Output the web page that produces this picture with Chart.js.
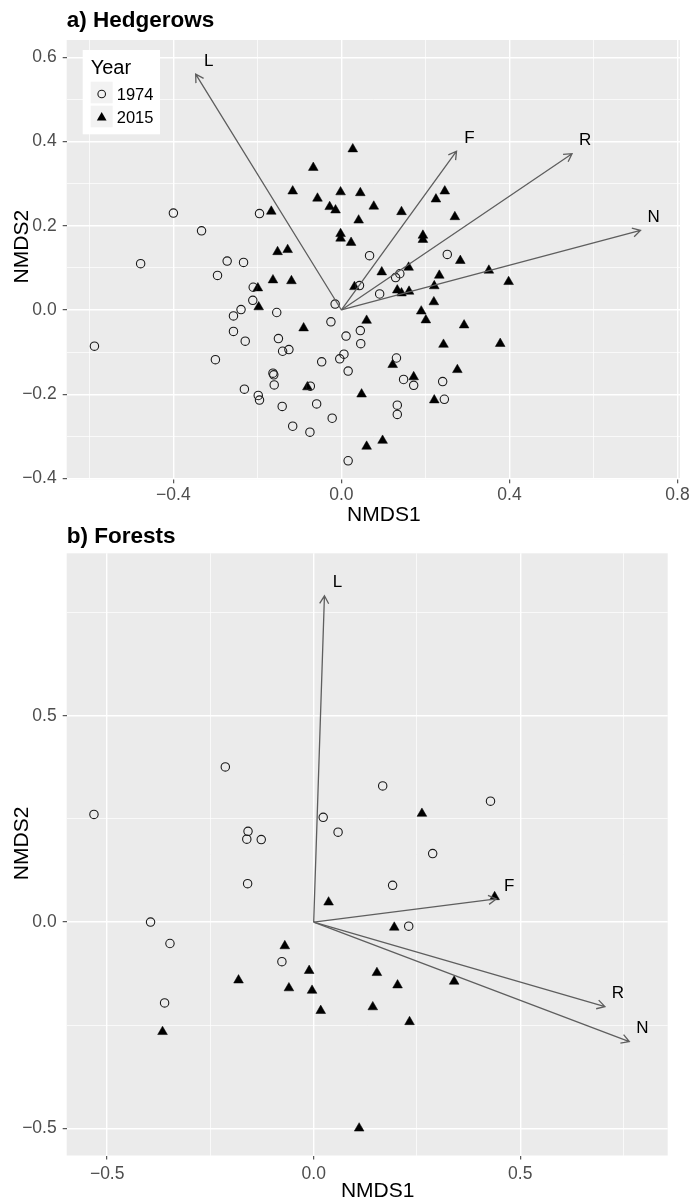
<!DOCTYPE html>
<html>
<head>
<meta charset="utf-8">
<script src="https://cdn.jsdelivr.net/npm/chart.js@4.4.0/dist/chart.umd.min.js"></script>
<style>
html,body{margin:0;padding:0;background:#fff;}
#wrap{position:relative;width:693px;height:1200px;overflow:hidden;}
#wrap canvas{position:absolute;left:0;}
</style>
</head>
<body>
<div id="wrap">
<canvas id="cA" width="693" height="530" style="top:0px"></canvas>
<canvas id="cB" width="693" height="680" style="top:520px"></canvas>
</div>
<script>
// ---------------- DATA ----------------
const yearLabels = ['1974', '2015'];

// a) Hedgerows
const hedge1974X = [-0.588,-0.478,-0.400,-0.333,-0.195,-0.272,-0.233,-0.295,-0.210,-0.211,-0.239,-0.257,-0.154,-0.257,-0.229,-0.150,-0.140,-0.125,-0.300,-0.015,-0.025,0.011,-0.047,0.006,-0.004,0.016,-0.163,-0.161,-0.160,-0.231,-0.198,-0.195,-0.074,-0.141,-0.059,-0.116,-0.075,-0.022,0.016,0.067,0.252,0.043,0.129,0.139,0.091,0.045,0.046,0.131,0.148,0.172,0.241,0.245,0.133,0.133];
const hedge1974Y = [-0.086,0.110,0.230,0.188,0.229,0.116,0.113,0.082,0.054,0.023,0.001,-0.014,-0.006,-0.051,-0.074,-0.068,-0.098,-0.094,-0.118,0.014,-0.028,-0.062,-0.123,-0.105,-0.116,-0.145,-0.150,-0.154,-0.178,-0.188,-0.203,-0.214,-0.181,-0.229,-0.223,-0.276,-0.290,-0.257,-0.358,0.129,0.132,0.058,0.077,0.086,0.038,-0.049,-0.080,-0.114,-0.165,-0.179,-0.170,-0.212,-0.226,-0.248];
const hedge2015X = [-0.152,-0.128,-0.163,-0.119,-0.199,-0.197,-0.090,-0.081,-0.167,-0.067,-0.116,-0.057,-0.002,-0.028,-0.014,-0.002,-0.002,0.027,0.045,0.077,0.041,0.143,0.246,0.225,0.270,0.023,0.194,0.194,0.283,0.160,0.096,0.233,0.351,0.398,0.031,0.133,0.143,0.161,0.221,0.220,0.190,0.201,0.060,0.292,0.243,0.378,0.122,0.172,0.276,0.048,0.221,0.098,0.060];
const hedge2015Y = [0.138,0.143,0.071,0.069,0.052,0.007,-0.043,-0.183,0.234,0.338,0.282,0.265,0.280,0.245,0.237,0.181,0.170,0.382,0.278,0.246,0.213,0.233,0.282,0.263,0.221,0.160,0.177,0.167,0.117,0.101,0.090,0.082,0.094,0.067,0.055,0.047,0.040,0.044,0.057,0.019,-0.003,-0.024,-0.025,-0.036,-0.082,-0.080,-0.130,-0.159,-0.142,-0.200,-0.214,-0.310,-0.324];
const hedgeVectorNames = ['L', 'F', 'R', 'N'];
const hedgeVectorX = [-0.347, 0.274, 0.549, 0.712];
const hedgeVectorY = [0.560, 0.377, 0.371, 0.189];
const hedgeXTicks = [-0.4, 0.0, 0.4, 0.8];
const hedgeXMinorTicks = [-0.6, -0.2, 0.2, 0.6];
const hedgeYTicks = [-0.4, -0.2, 0.0, 0.2, 0.4, 0.6];
const hedgeYMinorTicks = [-0.3, -0.1, 0.1, 0.3, 0.5];

// b) Forests
const forest1974X = [-0.214,-0.532,0.023,0.059,-0.159,-0.162,-0.127,0.167,0.428,0.288,-0.160,-0.395,-0.348,-0.077,-0.361,0.191,0.230];
const forest1974Y = [0.376,0.261,0.254,0.218,0.220,0.201,0.200,0.330,0.293,0.166,0.093,0.000,-0.052,-0.096,-0.196,0.089,-0.010];
const forest2015X = [0.262,0.036,-0.070,-0.011,-0.182,-0.060,-0.004,0.017,-0.366,0.438,0.195,0.153,0.203,0.340,0.143,0.232,0.110];
const forest2015Y = [0.263,0.048,-0.058,-0.118,-0.141,-0.160,-0.166,-0.215,-0.266,0.061,-0.013,-0.123,-0.153,-0.144,-0.206,-0.242,-0.500];
const forestVectorNames = ['L', 'F', 'R', 'N'];
const forestVectorX = [0.026, 0.442, 0.705, 0.764];
const forestVectorY = [0.791, 0.056, -0.205, -0.290];
const forestXTicks = [-0.5, 0.0, 0.5];
const forestXMinorTicks = [-0.25, 0.25, 0.75];
const forestYTicks = [-0.5, 0.0, 0.5];
const forestYMinorTicks = [-0.25, 0.25, 0.75];

// ---------------- STYLE / BUILD ----------------
const FONT = "'Liberation Sans', Arial, Helvetica, sans-serif";
Chart.defaults.font.family = FONT;

const zip = (xs, ys) => xs.map((x, i) => ({x: x, y: ys[i]}));
const fmt = v => (v < 0 ? '\u2212' : '') + Math.abs(v).toFixed(1);
const isMajor = (list, v) => list.some(t => Math.abs(t - v) < 1e-9);

const ordiPlugin = {
  id: 'ordi',
  beforeDraw(chart) {
    const {ctx, chartArea: a} = chart;
    ctx.save();
    ctx.fillStyle = '#ebebeb';
    ctx.fillRect(a.left, a.top, a.right - a.left, a.bottom - a.top);
    ctx.restore();
  },
  afterDatasetsDraw(chart, args, o) {
    const {ctx, scales: {x, y}} = chart;
    const ox = x.getPixelForValue(0), oy = y.getPixelForValue(0);
    ctx.save();
    ctx.strokeStyle = '#5e5e5e';
    ctx.lineWidth = 1.3;
    ctx.lineCap = 'butt';
    ctx.lineJoin = 'miter';
    o.names.forEach((n, i) => {
      const px = x.getPixelForValue(o.vx[i]), py = y.getPixelForValue(o.vy[i]);
      const ang = Math.atan2(py - oy, px - ox), L = 9, h = Math.PI / 6;
      ctx.beginPath();
      ctx.moveTo(ox, oy); ctx.lineTo(px, py);
      ctx.moveTo(px - L * Math.cos(ang - h), py - L * Math.sin(ang - h));
      ctx.lineTo(px, py);
      ctx.lineTo(px - L * Math.cos(ang + h), py - L * Math.sin(ang + h));
      ctx.stroke();
      ctx.fillStyle = '#000';
      ctx.font = '17px ' + FONT;
      ctx.textAlign = 'center';
      ctx.textBaseline = 'middle';
      ctx.fillText(n, px + 13, py - 13);
    });
    ctx.restore();
  },
  afterDraw(chart, args, o) {
    const {ctx, chartArea: a} = chart;
    ctx.save();
    // axis titles
    ctx.fillStyle = '#000';
    ctx.font = '21px ' + FONT;
    ctx.textAlign = 'center';
    ctx.textBaseline = 'alphabetic';
    ctx.fillText(o.xTitle, (a.left + a.right) / 2 + 10.5, o.xTitleBase);
    ctx.translate(28.3, (a.top + a.bottom) / 2 + o.yTitleShift);
    ctx.rotate(-Math.PI / 2);
    ctx.fillText(o.yTitle, 0, 0);
    ctx.restore();
    if (!o.legend) return;
    // legend
    const L = a.left, T = a.top;
    ctx.save();
    ctx.fillStyle = '#ffffff';
    ctx.fillRect(L + 16, T + 10, 77.3, 84.3);
    ctx.fillStyle = '#f2f2f2';
    ctx.fillRect(L + 24, T + 41.7, 22, 21.6);
    ctx.fillRect(L + 24, T + 65.7, 22, 21.6);
    ctx.fillStyle = '#000';
    ctx.textAlign = 'left';
    ctx.textBaseline = 'alphabetic';
    ctx.font = '20px ' + FONT;
    ctx.fillText(o.legendTitle, L + 24, T + 34.3);
    ctx.font = '16.5px ' + FONT;
    ctx.fillText(o.legendLabels[0], L + 50, T + 60);
    ctx.fillText(o.legendLabels[1], L + 50, T + 82.7);
    // keys
    ctx.strokeStyle = '#1a1a1a';
    ctx.lineWidth = 1.1;
    ctx.beginPath();
    ctx.arc(L + 35, T + 54, 3.8, 0, Math.PI * 2);
    ctx.stroke();
    const cx = L + 35, cy = T + 77.7, r = 5.6;
    ctx.beginPath();
    ctx.moveTo(cx, cy - r);
    ctx.lineTo(cx + r * Math.sin(2 * Math.PI / 3), cy - r * Math.cos(2 * Math.PI / 3));
    ctx.lineTo(cx + r * Math.sin(4 * Math.PI / 3), cy - r * Math.cos(4 * Math.PI / 3));
    ctx.closePath();
    ctx.fill();
    ctx.restore();
  }
};

function makeChart(canvasId, cfg) {
  const gridColor = 'rgba(255,255,255,1)';
  const scaleOpts = (min, max, major, minor, isX) => ({
    type: 'linear',
    min: min, max: max,
    afterBuildTicks: s => {
      s.ticks = major.concat(minor).sort((p, q) => p - q).map(v => ({value: v}));
    },
    afterFit: s => {
      if (isX) s.height = cfg.xScaleHeight; else s.width = 66.7;
    },
    border: {display: false},
    grid: {
      color: gridColor,
      lineWidth: c => isMajor(major, c.tick.value) ? 1.4 : 0.7,
      tickColor: c => isMajor(major, c.tick.value) ? '#333333' : 'rgba(0,0,0,0)',
      tickWidth: 1,
      tickLength: 4,
      drawTicks: true,
      drawOnChartArea: true
    },
    ticks: {
      autoSkip: false,
      maxRotation: 0,
      minRotation: 0,
      color: '#4d4d4d',
      font: {size: 17.5, family: FONT},
      padding: isX ? cfg.xTickPad : 6,
      callback: v => isMajor(major, v) ? fmt(v) : ''
    }
  });
  return new Chart(document.getElementById(canvasId), {
    type: 'scatter',
    data: {
      datasets: [
        {
          label: yearLabels[0],
          data: zip(cfg.x74, cfg.y74),
          pointStyle: 'circle',
          pointRadius: 4.2,
          borderWidth: 1.1,
          borderColor: '#1a1a1a',
          backgroundColor: 'rgba(0,0,0,0)'
        },
        {
          label: yearLabels[1],
          data: zip(cfg.x15, cfg.y15),
          pointStyle: 'triangle',
          pointRadius: 5.6,
          borderWidth: 0.5,
          borderColor: '#000',
          backgroundColor: '#000'
        }
      ]
    },
    options: {
      responsive: false,
      devicePixelRatio: 1,
      animation: false,
      events: [],
      layout: {padding: {left: 0, top: 0, right: cfg.padRight, bottom: 0}},
      scales: {
        x: scaleOpts(cfg.xmin, cfg.xmax, cfg.xMajor, cfg.xMinor, true),
        y: scaleOpts(cfg.ymin, cfg.ymax, cfg.yMajor, cfg.yMinor, false)
      },
      plugins: {
        legend: {display: false},
        tooltip: {enabled: false},
        title: {
          display: true,
          text: cfg.title,
          align: 'start',
          fullSize: false,
          color: '#000',
          font: {size: 22.5, weight: 'bold', family: FONT},
          padding: cfg.titlePad
        },
        ordi: {
          names: cfg.names, vx: cfg.vx, vy: cfg.vy,
          xTitle: 'NMDS1', yTitle: 'NMDS2',
          xTitleBase: cfg.xTitleBase, yTitleShift: cfg.yTitleShift,
          legend: cfg.legend,
          legendTitle: 'Year', legendLabels: yearLabels
        }
      }
    },
    plugins: [ordiPlugin]
  });
}

makeChart('cA', {
  title: 'a) Hedgerows',
  titlePad: {top: 7.7, bottom: 5.3},
  x74: hedge1974X, y74: hedge1974Y, x15: hedge2015X, y15: hedge2015Y,
  names: hedgeVectorNames, vx: hedgeVectorX, vy: hedgeVectorY,
  xmin: -0.654, xmax: 0.806, ymin: -0.402, ymax: 0.641,
  xMajor: hedgeXTicks, xMinor: hedgeXMinorTicks, yMajor: hedgeYTicks, yMinor: hedgeYMinorTicks,
  xScaleHeight: 50.7, xTickPad: 1.2, padRight: 13,
  xTitleBase: 520.7, yTitleShift: -13,
  legend: true
});

makeChart('cB', {
  title: 'b) Forests',
  titlePad: {top: 3.5, bottom: 2.8},
  x74: forest1974X, y74: forest1974Y, x15: forest2015X, y15: forest2015Y,
  names: forestVectorNames, vx: forestVectorX, vy: forestVectorY,
  xmin: -0.598, xmax: 0.857, ymin: -0.566, ymax: 0.894,
  xMajor: forestXTicks, xMinor: forestXMinorTicks, yMajor: forestYTicks, yMinor: forestYMinorTicks,
  xScaleHeight: 44.5, xTickPad: 4.5, padRight: 25.3,
  xTitleBase: 676.7, yTitleShift: -11,
  legend: false
});
</script>
</body>
</html>
